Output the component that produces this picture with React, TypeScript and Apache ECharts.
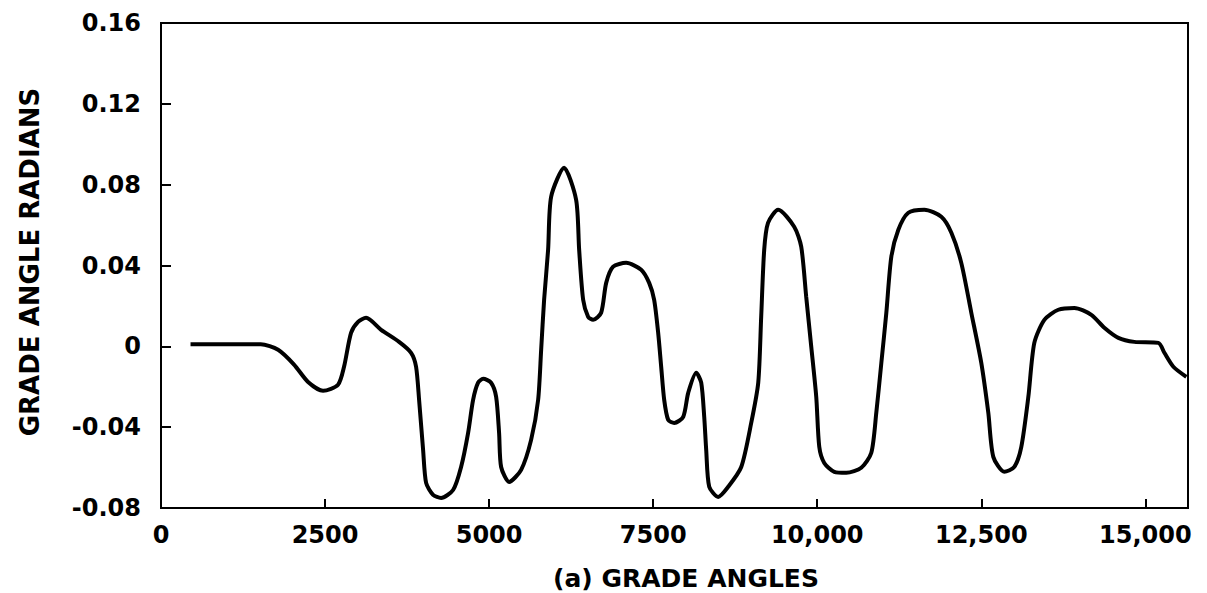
import React, { useEffect, useRef } from "react";
import * as echarts from "echarts";

// Distance (x) and grade angle in radians (y)
const xValues = [
  450, 1520, 1784, 2027, 2241, 2470, 2698, 2790, 2896, 3003, 3125, 3354, 3628, 3811, 3887, 3933,
  3994, 4040, 4146, 4268, 4451, 4573, 4680, 4756, 4832, 4909, 5030, 5107, 5152, 5183, 5305, 5488,
  5640, 5747, 5793, 5838, 5899, 5945, 6143, 6326, 6372, 6433, 6509, 6585, 6707, 6784, 6890, 7088,
  7317, 7439, 7515, 7576, 7622, 7668, 7729, 7821, 7958, 8034, 8156, 8232, 8278, 8308, 8354, 8491,
  8643, 8842, 8994, 9101, 9146, 9192, 9250, 9405, 9649, 9756, 9832, 9909, 9985, 10031, 10107, 10260,
  10443, 10671, 10824, 10900, 10977, 11053, 11129, 11236, 11388, 11632, 11891, 12044, 12195, 12348,
  12500, 12607, 12683, 12851, 13003, 13110, 13217, 13308, 13461, 13674, 13918, 14177, 14375, 14589,
  14833, 15199, 15290, 15427, 15625,
];
const yValues = [
  0.001, 0.001, -0.0017, -0.009, -0.0176, -0.022, -0.019, -0.010, 0.0067, 0.0121, 0.0141, 0.0082,
  0.0022, -0.0032, -0.0101, -0.0265, -0.0512, -0.0676, -0.0735, -0.075, -0.0711, -0.0597, -0.0428,
  -0.0265, -0.018, -0.0161, -0.018, -0.025, -0.0428, -0.0597, -0.0671, -0.0611, -0.0463, -0.0265,
  -0.0017, 0.023, 0.0478, 0.074, 0.0884, 0.0725, 0.0478, 0.023, 0.0146, 0.0131, 0.0166, 0.0314,
  0.0394, 0.0413, 0.0379, 0.0314, 0.023, 0.0067, -0.0101, -0.0265, -0.0364, -0.0379, -0.0349,
  -0.023, -0.0131, -0.018, -0.0349, -0.0512, -0.0695, -0.0745, -0.0695, -0.0597, -0.0379, -0.018,
  0.0146, 0.0478, 0.0611, 0.0676, 0.0592, 0.0493, 0.0245, -0.0002, -0.025, -0.0497, -0.0577,
  -0.0621, -0.0626, -0.0601, -0.0527, -0.0329, -0.0082, 0.0166, 0.0443, 0.0577, 0.0661, 0.0676,
  0.0641, 0.0562, 0.0413, 0.0166, -0.0082, -0.0329, -0.0547, -0.0621, -0.0597, -0.0497, -0.025,
  0.0017, 0.0131, 0.0181, 0.019, 0.0156, 0.0092, 0.0042, 0.0022, 0.0017, -0.0032, -0.0101, -0.0151,
];

const xMin = 0;
const xMax = 15650;
const xInterval = 2500;
const yMin = -0.08;
const yMax = 0.16;
const yInterval = 0.04;

const xTitle = "(a) GRADE ANGLES";
const yTitle = "GRADE ANGLE RADIANS";

const FONT = "'DejaVu Sans', Verdana, sans-serif";

export default function App() {
  const ref = useRef<HTMLDivElement>(null);

  useEffect(() => {
    if (!ref.current) return;
    const chart = echarts.init(ref.current, undefined, { renderer: "svg" });
    const data = xValues.map((x, i) => [x, yValues[i]]);
    chart.setOption({
      animation: false,
      backgroundColor: "#ffffff",
      grid: {
        left: 161,
        right: 19,
        top: 23,
        bottom: 85,
        show: true,
        borderColor: "#000",
        borderWidth: 2,
        backgroundColor: "transparent",
      },
      xAxis: {
        type: "value",
        min: xMin,
        max: xMax,
        interval: xInterval,
        splitLine: { show: false },
        axisLine: { show: true, onZero: false, lineStyle: { color: "#000", width: 2 } },
        axisTick: { show: true, inside: true, length: 9, lineStyle: { color: "#000", width: 2 } },
        axisLabel: {
          margin: 15,
          color: "#000",
          fontSize: 24,
          fontWeight: "bold",
          fontFamily: FONT,
          formatter: (v: number) => {
            if (v % xInterval !== 0) return "";
            return v >= 10000 ? v.toLocaleString("en-US") : String(v);
          },
        },
      },
      yAxis: {
        type: "value",
        min: yMin,
        max: yMax,
        interval: yInterval,
        splitLine: { show: false },
        axisLine: { show: true, onZero: false, lineStyle: { color: "#000", width: 2 } },
        axisTick: { show: true, inside: true, length: 10, lineStyle: { color: "#000", width: 2 } },
        axisLabel: {
          margin: 20,
          color: "#000",
          fontSize: 24,
          fontWeight: "bold",
          fontFamily: FONT,
          formatter: (v: number) => (Math.abs(v) < 1e-9 ? "0" : v.toFixed(2)),
        },
      },
      graphic: [
        {
          type: "text",
          x: 686,
          y: 578,
          style: {
            text: xTitle,
            fill: "#000",
            font: `bold 25px ${FONT}`,
            textAlign: "center",
            textVerticalAlign: "middle",
          },
        },
        {
          type: "text",
          x: 30,
          y: 262,
          rotation: Math.PI / 2,
          style: {
            text: yTitle,
            fill: "#000",
            font: `bold 26px ${FONT}`,
            textAlign: "center",
            textVerticalAlign: "middle",
          },
        },
      ],
      series: [
        {
          type: "line",
          data,
          smooth: 0.25,
          showSymbol: false,
          symbol: "none",
          lineStyle: { color: "#000", width: 4 },
        },
      ],
    });
    return () => chart.dispose();
  }, []);

  return (
    <div
      ref={ref}
      style={{ position: "fixed", left: 0, top: 0, width: 1207, height: 593, background: "#fff" }}
    />
  );
}
